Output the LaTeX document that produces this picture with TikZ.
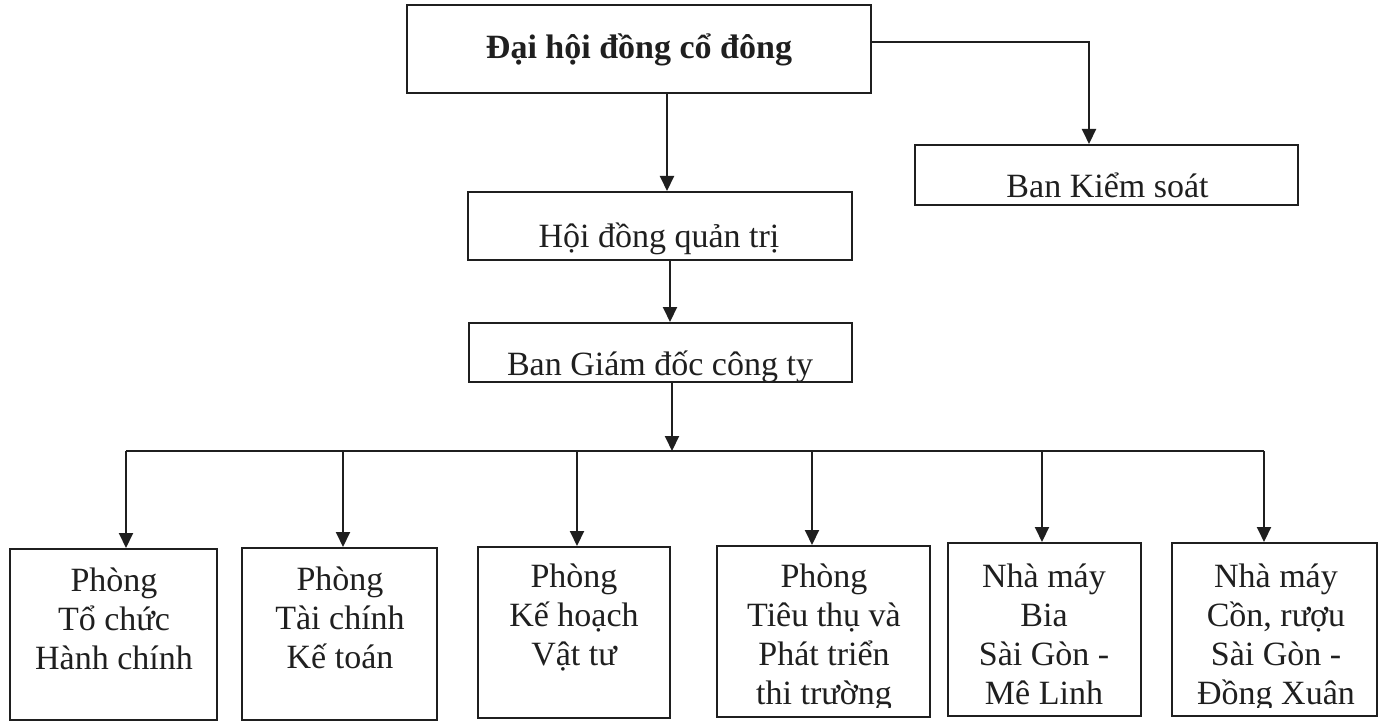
\documentclass[tikz,border=0pt]{standalone}
\usepackage{fontspec}
\setmainfont{Liberation Serif}
\usetikzlibrary{arrows.meta}
\begin{document}
\begin{tikzpicture}[x=1pt,y=-1pt,
  box/.style={draw=black!88,line width=2pt,rectangle,inner sep=0pt},
  lbl/.style={anchor=base,inner sep=0pt,text=black!88,font=\fontsize{34}{39}\selectfont},
  arr/.style={draw=black!88,line width=2pt,-{Triangle[width=14pt,length=15pt]}},
  conn/.style={draw=black!88,line width=2pt}]
\useasboundingbox (0,0) rectangle (1383,722);
\fill[white] (0,0) rectangle (1383,722);
% boxes
\node[box,minimum width=464pt,minimum height=88pt] (top) at (639,49) {};
\node[box,minimum width=383pt,minimum height=60pt] (bk) at (1106.5,175) {};
\node[box,minimum width=384pt,minimum height=68pt] (hd) at (660,226) {};
\node[box,minimum width=383pt,minimum height=59pt] (gd) at (660.5,352.5) {};
\node[box,minimum width=207pt,minimum height=171pt] (b1) at (113.5,634.5) {};
\node[box,minimum width=195pt,minimum height=172pt] (b2) at (339.5,634) {};
\node[box,minimum width=192pt,minimum height=171pt] (b3) at (574,632.5) {};
\node[box,minimum width=213pt,minimum height=171pt] (b4) at (823.5,631.5) {};
\node[box,minimum width=193pt,minimum height=173pt] (b5) at (1044.5,629.5) {};
\node[box,minimum width=205pt,minimum height=173pt] (b6) at (1274.5,629.5) {};
% labels
\node[lbl,font=\fontsize{34}{39}\selectfont\bfseries] (ttop) at (639,59) {Đại hội đồng cổ đông};
\node[lbl] (tbk) at (1107.5,197) {Ban Kiểm soát};
\node[lbl] (thd) at (659,247) {Hội đồng quản trị};
\node[lbl] (tgd) at (660,375) {Ban Giám đốc công ty};
\begin{scope}
\clip (0,0) rectangle (1383,707);
\node[lbl] (tb1) at (114,591) {\begin{tabular}[t]{@{}c@{}}Phòng\\Tổ chức\\Hành chính\end{tabular}};
\node[lbl] (tb2) at (340,590) {\begin{tabular}[t]{@{}c@{}}Phòng\\Tài chính\\Kế toán\end{tabular}};
\node[lbl] (tb3) at (574,587) {\begin{tabular}[t]{@{}c@{}}Phòng\\Kế hoạch\\Vật tư\end{tabular}};
\node[lbl] (tb4) at (824,587) {\begin{tabular}[t]{@{}c@{}}Phòng\\Tiêu thụ và\\Phát triển\\thi trường\end{tabular}};
\node[lbl] (tb5) at (1044,587) {\begin{tabular}[t]{@{}c@{}}Nhà máy\\Bia\\Sài Gòn -\\Mê Linh\end{tabular}};
\node[lbl] (tb6) at (1276,587) {\begin{tabular}[t]{@{}c@{}}Nhà máy\\Cồn, rượu\\Sài Gòn -\\Đồng Xuân\end{tabular}};
\end{scope}
% connectors
\draw[arr] ([xshift=28pt]top.south) -- ([xshift=28pt]top.south |- hd.north);
\draw[arr] ([yshift=7pt]top.east) -| ([xshift=-17.5pt]bk.north);
\draw[arr] ([xshift=10pt]hd.south) -- ([xshift=10pt]hd.south |- gd.north);
\coordinate (bus) at (672,451);
\draw[arr] ([xshift=11.5pt]gd.south) -- (bus);
\coordinate (a1) at (126,451);
\coordinate (a2) at (343,451);
\coordinate (a3) at (577,451);
\coordinate (a4) at (812,451);
\coordinate (a5) at (1042,451);
\coordinate (a6) at (1264,451);
\draw[conn] (a1) -- (a6);
\draw[arr] (a1) -- (a1 |- b1.north);
\draw[arr] (a2) -- (a2 |- b2.north);
\draw[arr] (a3) -- (a3 |- b3.north);
\draw[arr] (a4) -- (a4 |- b4.north);
\draw[arr] (a5) -- (a5 |- b5.north);
\draw[arr] (a6) -- (a6 |- b6.north);
\end{tikzpicture}
\end{document}
